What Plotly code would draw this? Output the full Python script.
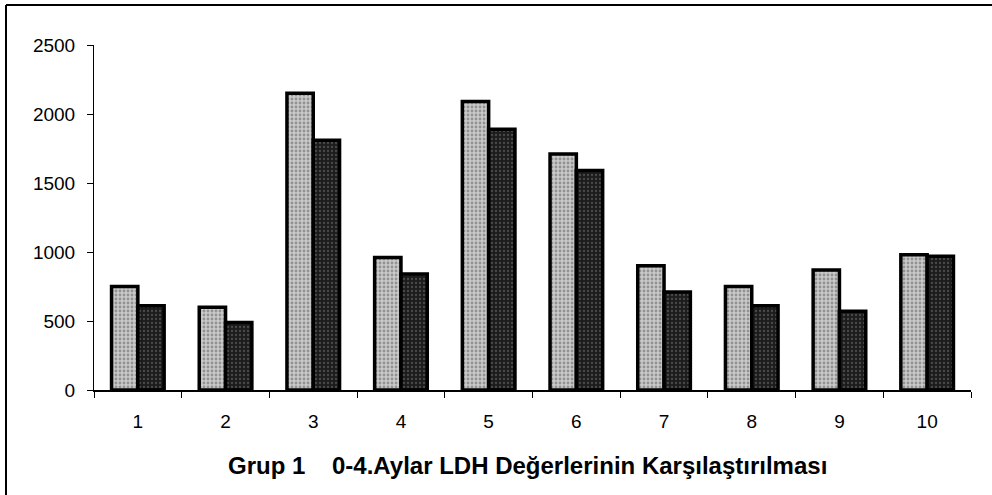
import plotly.graph_objects as go

categories = ["1", "2", "3", "4", "5", "6", "7", "8", "9", "10"]
series_a = [750, 600, 2150, 960, 2090, 1710, 900, 750, 870, 980]
series_b = [610, 490, 1810, 840, 1890, 1590, 710, 610, 570, 970]
y_ticks = [0, 500, 1000, 1500, 2000, 2500]
title_text = "Grup 1\u00a0\u00a0\u00a0\u00a00-4.Aylar LDH Değerlerinin Karşılaştırılması"

W, H = 992, 495
L, R, T, B = 94, 21, 45, 105

fig = go.Figure()
fig.add_trace(go.Bar(
    x=categories, y=series_a,
    marker=dict(color="#b8b8b8", line=dict(color="#000000", width=3.5),
                pattern=dict(shape=".", fgcolor="#5a5a5a", bgcolor="#cacaca", size=4, solidity=0.4)),
    showlegend=False,
))
fig.add_trace(go.Bar(
    x=categories, y=series_b,
    marker=dict(color="#2a2a2a", line=dict(color="#000000", width=3.5),
                pattern=dict(shape=".", fgcolor="#7a7a7a", bgcolor="#1c1c1c", size=4, solidity=0.25)),
    showlegend=False,
))

pw = W - L - R
ph = H - T - B
# outer frame (top and left edges visible in the scan)
fig.add_shape(type="line", xref="paper", yref="paper",
              x0=(6 - L) / pw, x1=(W + 5 - L) / pw,
              y0=(H - B - 5) / ph, y1=(H - B - 5) / ph,
              line=dict(color="#000000", width=2))
fig.add_shape(type="line", xref="paper", yref="paper",
              x0=(6 - L) / pw, x1=(6 - L) / pw,
              y0=(H - B - 5) / ph, y1=(H - B - H - 5) / ph,
              line=dict(color="#000000", width=2))

fig.update_layout(
    width=W, height=H,
    margin=dict(l=L, r=R, t=T, b=B),
    paper_bgcolor="white", plot_bgcolor="white",
    barmode="group", bargap=0.4, bargroupgap=0.0,
    font=dict(family="Liberation Sans, Arial, sans-serif", size=19, color="#000000"),
    annotations=[dict(text="<b>" + title_text + "</b>", xref="paper", yref="paper",
                      x=(527 - L) / pw, y=(H - B - 466) / ph, xanchor="center", yanchor="middle",
                      showarrow=False, font=dict(size=24, color="#000000"))],
)
fig.update_xaxes(
    type="category", showline=True, linecolor="#000000", linewidth=1.5,
    ticks="outside", tickson="boundaries", ticklen=6, tickcolor="#000000",
    showgrid=False, zeroline=False, tickfont=dict(size=19), ticklabelstandoff=13,
)
fig.update_yaxes(
    range=[0, 2500], tickvals=y_ticks, ticktext=[str(v) for v in y_ticks],
    showline=True, linecolor="#000000", linewidth=1,
    ticks="outside", ticklen=6, tickcolor="#000000",
    showgrid=False, zeroline=False, tickfont=dict(size=19), ticklabelstandoff=8,
)

fig.write_html("out.html", config={"displayModeBar": False},
               post_script="document.body.style.margin='0';")
